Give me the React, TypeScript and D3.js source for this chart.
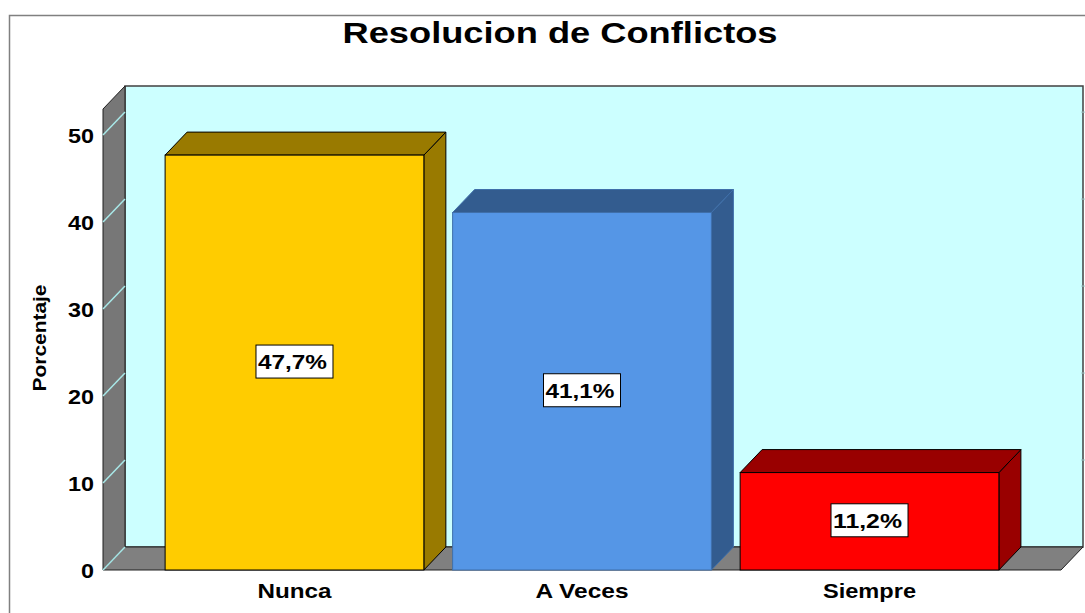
import React from "react";
import * as d3 from "d3";

const title = "Resolucion de Conflictos";
const yAxisLabel = "Porcentaje";
const categories = ["Nunca", "A Veces", "Siempre"];
const values = [47.7, 41.1, 11.2];
const valueLabels = ["47,7%", "41,1%", "11,2%"];
const yTicks = [0, 10, 20, 30, 40, 50];
const frontColors = ["#FFCC00", "#5596E6", "#FF0000"];
const darkColors = ["#997A00", "#335C8F", "#990000"];
const strokeColors = ["#000000", "#3F6FAA", "#000000"];

const W = 1085;
const H = 613;
const DX = 22;
const DY = 23;

export default function App() {
  const y = d3.scaleLinear().domain([0, 53]).range([570, 109]);
  const x = d3
    .scaleBand<string>()
    .domain(categories)
    .range([103, 1061])
    .paddingInner(0.1)
    .paddingOuter(0.216);

  const x0 = 103;
  const x1 = 1061;
  const y0 = y(0);
  const yTop = y(53);
  const font = "'Liberation Sans', Arial, sans-serif";

  const pts = (arr: number[][]) => arr.map((p) => p.join(",")).join(" ");
  const catWidth = (c: string) => (c === "Nunca" ? 74 : 93);
  const tickWidth = (t: number) => (t === 0 ? 13 : 26);

  return (
    <svg
      width={W}
      height={H}
      style={{ position: "absolute", left: 0, top: 0, background: "#fff" }}
      fontFamily={font}
    >
      {/* outer frame */}
      <path d={`M9.5,${H} L9.5,15.5 L${W},15.5`} fill="none" stroke="#808080" strokeWidth={1.5} />

      {/* title */}
      <text
        x={560}
        y={43}
        textAnchor="middle"
        fontSize={29}
        fontWeight="bold"
        fill="#000"
        textLength={435}
        lengthAdjust="spacingAndGlyphs"
      >
        {title}
      </text>

      {/* back wall */}
      <rect
        x={x0 + DX}
        y={yTop - DY}
        width={x1 - x0}
        height={y0 - yTop}
        fill="#CCFFFF"
        stroke="#404040"
        strokeWidth={1.5}
      />

      {/* left wall */}
      <polygon
        points={pts([
          [x0, y0],
          [x0, yTop],
          [x0 + DX, yTop - DY],
          [x0 + DX, y0 - DY],
        ])}
        fill="#777777"
        stroke="#202020"
        strokeWidth={1}
      />

      {/* floor */}
      <polygon
        points={pts([
          [x0, y0],
          [x1, y0],
          [x1 + DX, y0 - DY],
          [x0 + DX, y0 - DY],
        ])}
        fill="#808080"
        stroke="#202020"
        strokeWidth={1}
      />

      {/* tick lines on left wall */}
      {yTicks.map((t) => (
        <line
          key={`tl${t}`}
          x1={x0}
          y1={y(t)}
          x2={x0 + DX}
          y2={y(t) - DY}
          stroke="#A8E8E8"
          strokeWidth={1.5}
        />
      ))}
      {/* small ticks at right of back wall */}
      {yTicks.slice(1).map((t) => (
        <line
          key={`tr${t}`}
          x1={x1 + DX - 2}
          y1={y(t) - DY}
          x2={x1 + DX + 2}
          y2={y(t) - DY}
          stroke="#A0C8C8"
          strokeWidth={1}
        />
      ))}

      {/* y tick labels */}
      {yTicks.map((t) => (
        <text
          key={`yl${t}`}
          x={94}
          y={y(t) + 8}
          textAnchor="end"
          fontSize={20}
          fontWeight="bold"
          fill="#000"
          textLength={tickWidth(t)}
          lengthAdjust="spacingAndGlyphs"
        >
          {t}
        </text>
      ))}

      {/* y axis label */}
      <text
        transform={`translate(46,338) rotate(-90)`}
        textAnchor="middle"
        fontSize={18}
        fontWeight="bold"
        fill="#000"
        textLength={107}
        lengthAdjust="spacingAndGlyphs"
      >
        {yAxisLabel}
      </text>

      {/* bars */}
      {categories.map((c, i) => {
        const bx = x(c) as number;
        const bw = x.bandwidth();
        const by = y(values[i]);
        return (
          <g key={c}>
            <polygon
              points={pts([
                [bx + bw, by],
                [bx + bw + DX, by - DY],
                [bx + bw + DX, y0 - DY],
                [bx + bw, y0],
              ])}
              fill={darkColors[i]}
              stroke={strokeColors[i]}
              strokeWidth={1}
            />
            <polygon
              points={pts([
                [bx, by],
                [bx + DX, by - DY],
                [bx + bw + DX, by - DY],
                [bx + bw, by],
              ])}
              fill={darkColors[i]}
              stroke={strokeColors[i]}
              strokeWidth={1}
            />
            <rect
              x={bx}
              y={by}
              width={bw}
              height={y0 - by}
              fill={frontColors[i]}
              stroke={strokeColors[i]}
              strokeWidth={1}
            />
          </g>
        );
      })}

      {/* value labels */}
      {categories.map((c, i) => {
        const cx = (x(c) as number) + x.bandwidth() / 2;
        const cy = (y(values[i]) + y0) / 2;
        return (
          <g key={`vl${c}`}>
            <rect x={cx - 38.5} y={cy - 17.5} width={77} height={33} fill="#fff" stroke="#000" strokeWidth={1} />
            <text
              x={cx - 2}
              y={cy + 6.5}
              textAnchor="middle"
              fontSize={19.5}
              fontWeight="bold"
              fill="#000"
              textLength={69}
              lengthAdjust="spacingAndGlyphs"
            >
              {valueLabels[i]}
            </text>
          </g>
        );
      })}

      {/* category labels */}
      {categories.map((c) => (
        <text
          key={`cl${c}`}
          x={(x(c) as number) + x.bandwidth() / 2}
          y={598}
          textAnchor="middle"
          fontSize={21}
          fontWeight="bold"
          fill="#000"
          textLength={catWidth(c)}
          lengthAdjust="spacingAndGlyphs"
        >
          {c}
        </text>
      ))}
    </svg>
  );
}
